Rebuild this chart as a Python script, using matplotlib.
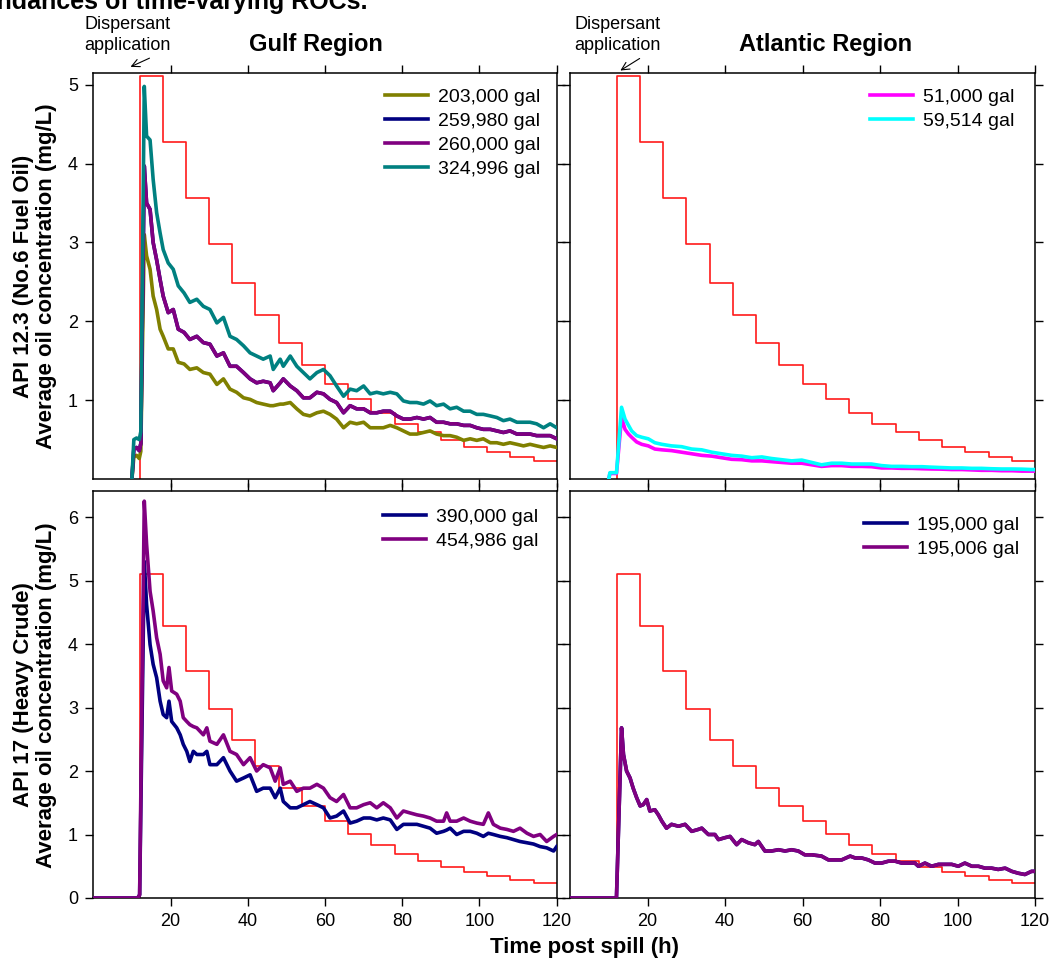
import numpy as np
import matplotlib
matplotlib.use('Agg')
import matplotlib.pyplot as plt

plt.rcParams['font.family'] = ['Liberation Sans', 'DejaVu Sans']

# dispersant dose steps (mg/L), 6 h blocks from 12 h to 120 h
dose_edges = [12, 18, 24, 30, 36, 42, 48, 54, 60, 66, 72, 78, 84, 90, 96, 102, 108, 114, 120]
dose_levels = [5.11, 4.28, 3.57, 2.98, 2.49, 2.08, 1.73, 1.45, 1.21, 1.01,
               0.84, 0.70, 0.59, 0.49, 0.41, 0.34, 0.28, 0.23]

# ---- Gulf, API 12.3 (No.6 fuel oil)
t_gulf6 = [10.0, 10.5, 11.2, 11.9, 12.3, 13.2, 13.8, 14.7, 15.5, 16.4, 17.3, 18.1, 19.4, 20.7,
           22.0, 23.5, 25.0, 26.8, 28.5, 30.2, 32.0, 33.7, 35.4, 37.1, 38.9, 40.6, 42.3, 44.0,
           45.8, 46.6, 48.4, 49.2, 51.0, 52.7, 54.4, 56.1, 57.9, 59.6, 61.3, 63.0, 64.8, 66.5,
           68.2, 70.0, 71.7, 73.4, 75.1, 76.9, 78.6, 80.3, 82.0, 83.8, 85.5, 87.2, 88.9, 90.7,
           92.4, 94.1, 95.9, 97.6, 99.3, 101.0, 102.8, 104.5, 106.2, 107.9, 109.7, 111.4, 113.1,
           114.8, 116.6, 118.3, 120.0]
g203000 = [0.0, 0.28, 0.30, 0.26, 0.35, 3.10, 2.83, 2.66, 2.32, 2.15, 1.90, 1.81, 1.65, 1.65,
           1.48, 1.46, 1.39, 1.41, 1.35, 1.33, 1.20, 1.27, 1.14, 1.10, 1.03, 1.01, 0.97, 0.95,
           0.93, 0.93, 0.95, 0.95, 0.97, 0.89, 0.82, 0.80, 0.84, 0.86, 0.82, 0.76, 0.65, 0.72,
           0.70, 0.72, 0.65, 0.65, 0.65, 0.68, 0.65, 0.61, 0.57, 0.57, 0.59, 0.61, 0.57, 0.55,
           0.55, 0.53, 0.49, 0.51, 0.49, 0.51, 0.46, 0.46, 0.44, 0.46, 0.44, 0.42, 0.44,
           0.42, 0.40, 0.42, 0.40]
g260000 = [0.0, 0.38, 0.40, 0.36, 0.45, 3.97, 3.50, 3.42, 3.00, 2.78, 2.53, 2.32, 2.11, 2.15,
           1.90, 1.86, 1.77, 1.81, 1.73, 1.71, 1.56, 1.60, 1.43, 1.43, 1.35, 1.27, 1.22, 1.24,
           1.22, 1.12, 1.22, 1.27, 1.18, 1.12, 1.03, 1.03, 1.10, 1.08, 1.01, 0.97, 0.84, 0.93,
           0.89, 0.89, 0.84, 0.84, 0.86, 0.86, 0.80, 0.76, 0.76, 0.78, 0.76, 0.78, 0.72, 0.72,
           0.70, 0.70, 0.68, 0.68, 0.65, 0.63, 0.63, 0.61, 0.59, 0.61, 0.57, 0.57, 0.57,
           0.55, 0.55, 0.55, 0.51]
g259980 = g260000  # sits under the 260,000 gal curve
g324996 = [0.0, 0.50, 0.52, 0.50, 0.60, 4.98, 4.35, 4.30, 3.80, 3.38, 3.12, 2.91, 2.74, 2.66,
           2.45, 2.36, 2.24, 2.28, 2.19, 2.15, 1.98, 2.05, 1.81, 1.77, 1.69, 1.60, 1.56, 1.52,
           1.56, 1.39, 1.52, 1.43, 1.56, 1.43, 1.35, 1.27, 1.35, 1.39, 1.31, 1.18, 1.05, 1.14,
           1.12, 1.18, 1.08, 1.10, 1.08, 1.10, 1.08, 0.99, 0.97, 0.97, 0.95, 0.99, 0.93, 0.95,
           0.89, 0.91, 0.86, 0.86, 0.82, 0.82, 0.80, 0.78, 0.74, 0.76, 0.72, 0.72, 0.72,
           0.70, 0.65, 0.70, 0.65]

# ---- Atlantic, API 12.3
t_atl6 = [10.0, 10.3, 12.0, 13.3, 14.2, 15.1, 15.9, 17.2, 18.5, 20.2, 21.9, 23.7, 26.2, 28.8,
          31.4, 34.0, 36.6, 39.1, 41.7, 44.3, 46.9, 49.5, 52.0, 54.6, 57.2, 59.8, 62.4, 64.9,
          67.5, 70.1, 72.7, 75.3, 77.8, 80.4, 83.0, 85.6, 88.2, 90.8, 93.3, 95.9, 98.5, 101.1,
          103.7, 106.2, 108.8, 111.4, 114.0, 116.6, 119.1, 120.0]
a51000 = [0.0, 0.07, 0.07, 0.78, 0.63, 0.57, 0.53, 0.47, 0.44, 0.42, 0.38, 0.37, 0.36, 0.34,
          0.32, 0.30, 0.29, 0.27, 0.25, 0.245, 0.23, 0.23, 0.22, 0.21, 0.20, 0.20, 0.18, 0.16,
          0.17, 0.17, 0.16, 0.16, 0.156, 0.14, 0.14, 0.135, 0.135, 0.13, 0.127, 0.125, 0.12, 0.12,
          0.115, 0.11, 0.11, 0.105, 0.105, 0.10, 0.10, 0.10]
a59514 = [0.0, 0.08, 0.08, 0.91, 0.76, 0.68, 0.61, 0.55, 0.53, 0.51, 0.46, 0.44, 0.42, 0.41,
          0.38, 0.37, 0.34, 0.32, 0.30, 0.29, 0.27, 0.28, 0.26, 0.245, 0.23, 0.24, 0.21, 0.18,
          0.20, 0.20, 0.19, 0.19, 0.19, 0.17, 0.16, 0.16, 0.156, 0.156, 0.15, 0.145, 0.14, 0.14,
          0.135, 0.135, 0.13, 0.127, 0.127, 0.125, 0.12, 0.12]

# ---- Gulf, API 17 (heavy crude)
t_gulf17 = [0.0, 11.5, 12.0, 13.2, 13.8, 14.7, 15.5, 16.4, 17.3, 18.1, 19.0, 19.6, 20.3, 21.6,
            22.5, 23.3, 24.2, 25.0, 25.9, 26.8, 28.5, 29.4, 30.2, 32.0, 33.7, 35.4, 37.1, 38.9,
            40.6, 42.3, 44.0, 45.8, 47.1, 48.4, 49.2, 51.0, 52.7, 54.4, 56.1, 57.9, 59.6, 61.3,
            63.0, 64.8, 66.5, 68.2, 70.0, 71.7, 73.4, 75.1, 76.9, 78.6, 80.3, 82.0, 83.8, 85.5,
            87.2, 88.9, 90.7, 91.5, 92.4, 94.1, 95.9, 97.6, 99.3, 101.0, 102.3, 103.6, 105.4,
            107.1, 108.8, 110.5, 112.3, 114.0, 115.7, 117.4, 119.2, 120.0]
g390000 = [0.0, 0.0, 0.05, 5.30, 4.62, 3.99, 3.68, 3.47, 3.10, 2.89, 2.84, 3.10, 2.78, 2.68,
           2.57, 2.42, 2.31, 2.15, 2.31, 2.26, 2.26, 2.31, 2.10, 2.10, 2.21, 2.00, 1.84, 1.89,
           1.94, 1.68, 1.73, 1.73, 1.58, 1.73, 1.52, 1.42, 1.42, 1.47, 1.52, 1.47, 1.42, 1.26,
           1.29, 1.37, 1.18, 1.21, 1.26, 1.26, 1.23, 1.26, 1.23, 1.08, 1.16, 1.16, 1.16, 1.13,
           1.10, 1.02, 1.05, 1.07, 1.10, 1.00, 1.05, 1.05, 1.02, 0.97, 1.02, 1.00, 0.97,
           0.95, 0.92, 0.89, 0.87, 0.85, 0.81, 0.79, 0.74, 0.81]
g454986 = [0.0, 0.0, 0.05, 6.25, 5.57, 4.83, 4.52, 4.10, 3.84, 3.42, 3.31, 3.63, 3.26, 3.21,
           3.10, 2.84, 2.78, 2.73, 2.70, 2.68, 2.57, 2.68, 2.47, 2.42, 2.57, 2.31, 2.26, 2.10,
           2.21, 2.00, 2.10, 2.05, 1.84, 2.05, 1.79, 1.84, 1.68, 1.73, 1.73, 1.79, 1.73, 1.58,
           1.52, 1.63, 1.42, 1.42, 1.47, 1.50, 1.42, 1.50, 1.42, 1.26, 1.37, 1.34, 1.31, 1.29,
           1.26, 1.21, 1.21, 1.34, 1.21, 1.21, 1.26, 1.21, 1.18, 1.16, 1.34, 1.16, 1.10,
           1.08, 1.05, 1.10, 1.02, 0.97, 1.00, 0.89, 0.97, 1.00]

# ---- Atlantic, API 17
t_atl17 = [0.0, 11.6, 12.0, 13.3, 13.8, 14.6, 15.5, 16.3, 17.2, 18.1, 18.9, 19.8, 20.6, 21.9,
           22.8, 23.7, 24.9, 26.2, 28.0, 29.7, 31.4, 33.1, 34.0, 35.7, 37.4, 38.3, 40.0, 41.3,
           43.0, 44.3, 46.0, 47.7, 48.6, 50.3, 52.0, 53.8, 55.5, 57.2, 58.9, 60.6, 62.4, 64.9,
           66.7, 68.4, 70.1, 72.3, 73.6, 75.3, 77.0, 78.7, 80.4, 82.2, 83.9, 85.6, 87.3, 89.0,
           89.9, 91.6, 93.3, 95.1, 96.8, 98.5, 100.2, 101.9, 103.7, 105.4, 107.1, 108.8, 110.5,
           112.3, 114.0, 115.7, 117.4, 119.1, 120.0]
a195006 = [0.0, 0.0, 0.02, 2.68, 2.26, 2.00, 1.89, 1.73, 1.58, 1.45, 1.47, 1.55, 1.37, 1.39,
           1.31, 1.21, 1.10, 1.16, 1.13, 1.16, 1.05, 1.08, 1.10, 1.00, 1.00, 0.92, 0.95, 0.97,
           0.84, 0.92, 0.87, 0.84, 0.89, 0.74, 0.74, 0.76, 0.74, 0.76, 0.74, 0.68, 0.68, 0.66,
           0.60, 0.60, 0.60, 0.66, 0.63, 0.63, 0.60, 0.55, 0.55, 0.58, 0.58, 0.55, 0.55, 0.55,
           0.50, 0.55, 0.50, 0.53, 0.53, 0.53, 0.50, 0.55, 0.50, 0.50, 0.47, 0.47, 0.45,
           0.47, 0.42, 0.39, 0.37, 0.42, 0.42]
a195000 = a195006  # hidden under the 195,006 gal curve

W, H = 1052, 960
fig = plt.figure(figsize=(W / 100, H / 100), dpi=100)

def px(x0, y0, x1, y1):
    return [x0 / W, 1 - y1 / H, (x1 - x0) / W, (y1 - y0) / H]

ax_tl = fig.add_axes(px(93.3, 73, 556.7, 479))
ax_tr = fig.add_axes(px(570, 73, 1035, 479))
ax_bl = fig.add_axes(px(93.3, 491, 556.7, 898))
ax_br = fig.add_axes(px(570, 491, 1035, 898))

lw = 2.6

def base(ax, top, labelx, labely):
    ax.step([12] + dose_edges, [0] + dose_levels + [dose_levels[-1]], where='post',
            color='#ff1a1a', lw=1.2, zorder=2)
    ax.set_xlim(0, 120)
    ax.set_xticks([20, 40, 60, 80, 100, 120])
    if top:
        ax.set_ylim(0, 5.15)
        ax.set_yticks([1, 2, 3, 4, 5])
    else:
        ax.set_ylim(0, 6.41)
        ax.set_yticks([0, 1, 2, 3, 4, 5, 6])
    ax.tick_params(direction='out', length=6, width=1, top=True, right=True,
                   labelsize=13, pad=5, labelbottom=labelx, labelleft=labely)
    for s in ax.spines.values():
        s.set_linewidth(1.1)

def legend(ax, x, y):
    ax.legend(loc='upper left', bbox_to_anchor=(x, y), frameon=False, fontsize=14,
              handlelength=2.2, handletextpad=0.55, labelspacing=0.33,
              borderpad=0, borderaxespad=0)

base(ax_tl, True, False, True)
ax_tl.plot(t_gulf6, g203000, color='#808000', lw=lw, label='203,000 gal', zorder=3)
ax_tl.plot(t_gulf6, g259980, color='#000080', lw=lw, label='259,980 gal', zorder=3)
ax_tl.plot(t_gulf6, g260000, color='#800080', lw=lw, label='260,000 gal', zorder=3)
ax_tl.plot(t_gulf6, g324996, color='#008080', lw=lw, label='324,996 gal', zorder=3)
legend(ax_tl, 0.629, 0.963)

base(ax_tr, True, False, False)
ax_tr.plot(t_atl6, a51000, color='#ff00ff', lw=lw, label='51,000 gal', zorder=3)
ax_tr.plot(t_atl6, a59514, color='#00ffff', lw=lw, label='59,514 gal', zorder=3)
legend(ax_tr, 0.645, 0.963)

base(ax_bl, False, True, True)
ax_bl.plot(t_gulf17, g390000, color='#000080', lw=lw, label='390,000 gal', zorder=3)
ax_bl.plot(t_gulf17, g454986, color='#800080', lw=lw, label='454,986 gal', zorder=3)
legend(ax_bl, 0.625, 0.958)

base(ax_br, False, True, False)
ax_br.plot(t_atl17, a195000, color='#000080', lw=lw, label='195,000 gal', zorder=3)
ax_br.plot(t_atl17, a195006, color='#800080', lw=lw, label='195,006 gal', zorder=3)
legend(ax_br, 0.632, 0.938)

# axis titles
ylab = 'Average oil concentration (mg/L)'
fig.text(35 / W, 1 - 276 / H, 'API 12.3 (No.6 Fuel Oil)\n' + ylab, rotation=90,
         ha='center', va='center', multialignment='center', fontsize=16, weight='bold',
         linespacing=1.1)
fig.text(35 / W, 1 - 695 / H, 'API 17 (Heavy Crude)\n' + ylab, rotation=90,
         ha='center', va='center', multialignment='center', fontsize=16, weight='bold',
         linespacing=1.1)
fig.text(585 / W, 1 - 948 / H, 'Time post spill (h)', ha='center', va='center',
         fontsize=16, weight='bold')

fig.text(316 / W, 1 - 44 / H, 'Gulf Region', ha='center', va='center', fontsize=17, weight='bold')
fig.text(826 / W, 1 - 44 / H, 'Atlantic Region', ha='center', va='center', fontsize=17, weight='bold')

# figure heading, cut off at the top edge as in the source
fig.text(367 / W, 1 - 9 / H, 'Abundances of time-varying ROCs.', ha='right', va='baseline',
         fontsize=18, weight='bold')

# dispersant annotation
for cx, head, tail in [(127.5, (128, 68), (152, 57)), (617.5, (618, 72), (642, 57))]:
    fig.text(cx / W, 1 - 35 / H, 'Dispersant\napplication', ha='center', va='center',
             fontsize=13, linespacing=1.3)
    fig.add_artist(matplotlib.patches.FancyArrowPatch(
        (tail[0] / W, 1 - tail[1] / H), (head[0] / W, 1 - head[1] / H),
        transform=fig.transFigure, arrowstyle='->', mutation_scale=14, lw=0.8, color='black'))

fig.savefig('out.png', dpi=100)
